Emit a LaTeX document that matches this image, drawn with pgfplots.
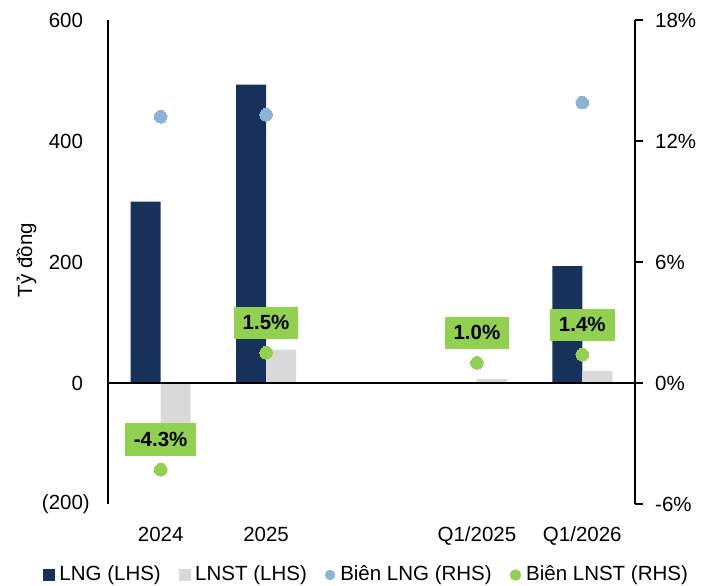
\documentclass[border=0pt]{standalone}
\usepackage{fontspec}
\setmainfont{Liberation Sans}
\usepackage{pgfplots}
\pgfplotsset{compat=1.18}

\definecolor{navy}{RGB}{23,50,90}
\definecolor{lgray}{RGB}{217,217,217}
\definecolor{lblue}{RGB}{141,180,214}
\definecolor{lgreen}{RGB}{146,208,80}

\begin{document}
\fontsize{20.5bp}{24bp}\selectfont
\begin{tikzpicture}
\useasboundingbox (0,0) rectangle (713bp,586bp);

% Left axis: profit in billion VND (bars)
\begin{axis}[
  at={(108bp,82bp)}, anchor=south west,
  scale only axis, width=527bp, height=484bp,
  xmin=-0.5, xmax=4.5, ymin=-200, ymax=600,
  axis x line*=bottom, x axis line style={draw=none},
  axis y line*=left, y axis line style={black, line width=1.2bp},
  xtick={0,1,3,4}, xticklabels={2024,2025,Q1/2025,Q1/2026},
  xtick style={draw=none},
  xticklabel style={anchor=base, inner sep=0pt, yshift=-33bp},
  ytick={-200,0,200,400,600},
  yticklabels={(200),0\hphantom{)},200\hphantom{)},400\hphantom{)},600\hphantom{)}},
  ytick style={draw=none},
  yticklabel style={anchor=east, inner sep=0pt, xshift=-18bp},
  ylabel={Tỷ đồng},
  every axis y label/.style={at={(axis description cs:-0.155,0.504)}, rotate=90, anchor=center},
  ybar, bar width=30bp,
  clip=false,
]
\addplot[fill=navy, draw=none, bar shift=-15bp] coordinates {(0,300) (1,493) (4,193)};
\addplot[fill=lgray, draw=none, bar shift=15bp] coordinates {(0,-99) (1,55) (3,7) (4,20)};
\draw[black, line width=1.2bp] (axis cs:-0.5,0) -- (axis cs:4.5,0);
\end{axis}

% Right axis: margins in percent (dots)
\begin{axis}[
  at={(108bp,82bp)}, anchor=south west,
  scale only axis, width=527bp, height=484bp,
  xmin=-0.5, xmax=4.5, ymin=-6, ymax=18,
  hide x axis,
  axis y line*=right, y axis line style={black, line width=1.2bp},
  ytick={-6,0,6,12,18},
  yticklabels={-6\%,0\%,6\%,12\%,18\%},
  tick align=outside, major tick length=8bp,
  ytick style={black, line width=1.2bp},
  yticklabel style={anchor=west, inner sep=0pt, xshift=12bp},
  clip=false,
  legend columns=4,
  legend style={draw=none, fill=none, inner sep=0pt,
    at={(axis description cs:0.4886,-0.1467)}, anchor=center,
    nodes={inner sep=0pt},
    /tikz/every odd column/.append style={column sep=5bp},
    /tikz/every even column/.append style={column sep=18bp}},
]
\addlegendimage{legend image code/.code={\fill[navy] (0bp,-5.5bp) rectangle (11bp,5.5bp);}}
\addlegendentry{LNG (LHS)}
\addlegendimage{legend image code/.code={\fill[lgray] (0bp,-5.5bp) rectangle (11bp,5.5bp);}}
\addlegendentry{LNST (LHS)}
\addlegendimage{legend image code/.code={\fill[lblue] (5bp,0bp) circle (5bp);}}
\addlegendentry{Biên LNG (RHS)}
\addlegendimage{legend image code/.code={\fill[lgreen] (5.5bp,0bp) circle (5.5bp);}}
\addlegendentry{Biên LNST (RHS)}

\addplot[forget plot, only marks, mark=*, mark size=6.3bp, color=lblue,
  mark options={draw=lblue, fill=lblue, line width=0pt}]
  coordinates {(0,13.2) (1,13.3) (4,13.9)};
\addplot[forget plot, only marks, mark=*, mark size=6.3bp, color=lgreen,
  mark options={draw=lgreen, fill=lgreen, line width=0pt},
  nodes near coords={\pgfmathprintnumber[fixed, fixed zerofill, precision=1, assume math mode=true]{\pgfplotspointmeta}\%},
  every node near coord/.append style={anchor=center, yshift=30bp,
    fill=lgreen, draw=none, text=black, font=\bfseries, inner xsep=9bp, inner ysep=9bp}]
  coordinates {(0,-4.3) (1,1.5) (3,1.0) (4,1.4)};
\end{axis}
\end{tikzpicture}
\end{document}
